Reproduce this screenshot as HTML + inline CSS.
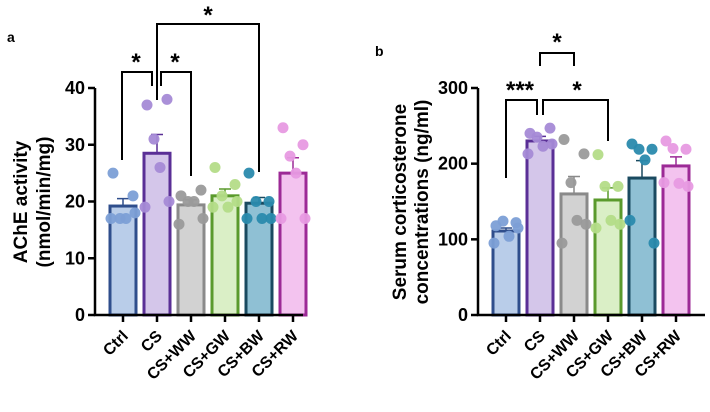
<!DOCTYPE html>
<html><head><meta charset="utf-8"><style>
html,body{margin:0;padding:0;background:#fff;width:710px;height:412px;overflow:hidden}
svg{display:block}
text{font-family:"Liberation Sans",Arial,sans-serif;font-weight:bold;fill:#000}
</style></head><body>
<svg id="s" width="710" height="412"></svg>
<script>
const categories=["Ctrl","CS","CS+WW","CS+GW","CS+BW","CS+RW"];
const aMeans=[19.2,28.5,19.4,21.0,19.7,25.0];
const aErr=[1.3,3.3,0.9,1.2,1.0,2.7];
const aPoints=[[25,21,17,17,17,18],[37,38,31,26,19,20],[21,22,20,20,16,17],[26,23,21,19,19,20],[25,20,20,17,17,17],[33,30,28,25,17,17]];
const aTicks=[0,10,20,30,40];
const bMeans=[111,230,160,152,181,197];
const bErr=[4,6,23,16,23,12];
const bPoints=[[118,122,124,104,95,115],[240,247,235,223,213,226],[232,213,175,125,95,120],[212,170,170,125,115,120],[226,219,219,205,125,95],[230,219,220,174,175,170]];
const bTicks=[0,100,200,300];
const fills=["#b9cde9","#d4c6ea","#d2d2d2","#daefc6","#8fc0d4","#f3c3ef"];
const strokes=["#2f4e8c","#5a2f96","#8a8a8a","#5a9a2c","#1a4a60","#9c2a96"];
const dots=["#7c9fd6","#a58ad6","#9a9a9a","#b4dc88","#2a8aad","#e79ae2"];
const offs=[-10,10,-3,3,-12,12];
const S=document.getElementById('s');const NS="http://www.w3.org/2000/svg";
function el(t,a,p){const e=document.createElementNS(NS,t);for(const k in a)e.setAttribute(k,a[k]);(p||S).appendChild(e);return e;}
function panel(cfg){
 const g=el('g',{});
 
 
 const y=v=>cfg.y0-(v/cfg.max)*(cfg.y0-cfg.yTop);
 const x=i=>cfg.x0+i*cfg.step;
 cfg.means.forEach((m,i)=>{
  const r=el('rect',{x:x(i)-13,y:y(m),width:26,height:cfg.y0-y(m),fill:fills[i],stroke:strokes[i],'stroke-width':3},g);
  
  
 });
 cfg.means.forEach((m,i)=>{
  const e=el('path',{d:`M${x(i)} ${y(m)}V${y(m+cfg.err[i])}M${x(i)-6} ${y(m+cfg.err[i])}H${x(i)+6}`,stroke:strokes[i],'stroke-width':1.5,fill:'none'},g);
  
  
  cfg.pts[i].forEach((p,j)=>{
   const c=el('circle',{cx:x(i)+offs[j],cy:y(p),r:5.5,fill:dots[i],opacity:0.95},g);
   
   
  });
 });
 const ax=el('path',{d:`M${cfg.ax} ${cfg.yTop}V${cfg.y0}H${cfg.axEnd}`,stroke:'#000','stroke-width':2.5,fill:'none'},g);
 
 
 cfg.ticks.forEach(t=>{
  el('line',{x1:cfg.ax-7,x2:cfg.ax,y1:y(t),y2:y(t),stroke:'#000','stroke-width':2.5},g);
  const tx=el('text',{x:cfg.ax-10,y:y(t)+6,'text-anchor':'end','font-size':18},g);tx.textContent=t;
  
  
 });
 categories.forEach((c,i)=>{
  el('line',{x1:x(i),x2:x(i),y1:cfg.y0,y2:cfg.y0+7,stroke:'#000','stroke-width':2.5},g);
  const tx=el('text',{x:x(i)+6,y:cfg.y0+22,'text-anchor':'end','font-size':16,transform:`rotate(-45 ${x(i)+6} ${cfg.y0+22})`},g);tx.textContent=c;
  
  
 });
 cfg.labels.forEach((l,k)=>{
  const tx=el('text',{x:l[0],y:cfg.labY,'text-anchor':'middle','font-size':19,transform:`rotate(-90 ${l[0]} ${cfg.labY})`},g);tx.textContent=l[1];
  
  
 });
 const pl=el('text',{x:cfg.letter[0],y:cfg.letter[1],'font-size':14},g);pl.textContent=cfg.letter[2];
 
 
 cfg.brackets.forEach(b=>{
  const p=el('path',{d:b[0],stroke:'#000','stroke-width':2,fill:'none'},g);
  
  
  const tx=el('text',{x:b[1],y:b[2],'text-anchor':'middle','font-size':24},g);tx.textContent=b[3];
  
  
 });
}
panel({name:'panel-a',x0:123,step:34,y0:315,yTop:88,max:40,ax:95,axEnd:303,means:aMeans,err:aErr,pts:aPoints,ticks:aTicks,
 labels:[[27,'AChE activity'],[50,'(nmol/min/mg)']],labY:202,letter:[7,42,'a'],
 brackets:[["M122 160V72H152V86",136,70,'*'],["M161 86V72H191V176",175,70,'*'],["M157 100V24H259V172",208,23,'*']]});
panel({name:'panel-b',x0:506,step:34,y0:315,yTop:88,max:300,ax:478,axEnd:705,means:bMeans,err:bErr,pts:bPoints,ticks:bTicks,
 labels:[[406,'Serum corticosterone'],[428,'concentrations (ng/ml)']],labY:202,letter:[375,56,'b'],
 brackets:[["M540 66V53H574V66",557,50,'*'],["M506 178V100H537V115",520,98,'***'],["M543 115V100H608V141",577,98,'*']]});
</script>
</body></html>
